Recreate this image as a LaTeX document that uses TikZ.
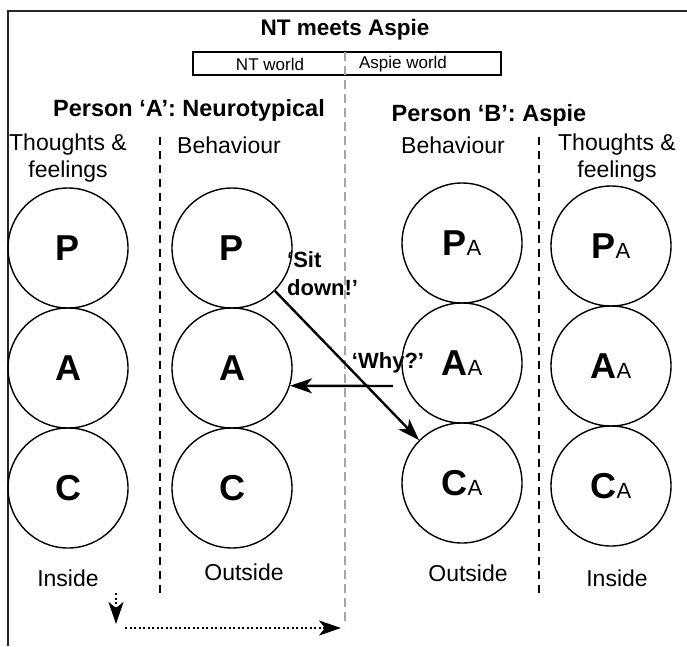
\documentclass[tikz,border=0pt]{standalone}
\usepackage{fontspec}
\setmainfont{Liberation Sans}
\usetikzlibrary{arrows.meta}
\tikzset{
  ring/.style={circle, draw, line width=1.4pt, minimum size=120pt, inner sep=0pt},
  lab/.style={font=\fontsize{23}{27}\selectfont, align=center, inner sep=0pt},
  head/.style={font=\fontsize{23.5}{27}\selectfont\bfseries, inner sep=0pt},
  speech/.style={font=\fontsize{22}{28}\selectfont\bfseries, inner sep=0pt, align=left},
  sep/.style={line width=2.2pt, dash pattern=on 8pt off 6pt},
  worldsep/.style={line width=2.2pt, gray!70, dash pattern=on 9pt off 5pt},
  arr/.style={line width=2.4pt, -{Stealth[length=22pt,width=15pt,inset=6pt]}},
  dotarr/.style={line width=2.4pt, dash pattern=on 2pt off 2.5pt, -{Stealth[length=22pt,width=15pt,inset=6pt]}}
}
\newcommand{\bigletter}[1]{{\fontsize{36}{40}\selectfont\bfseries #1}}
\newcommand{\subA}{{\fontsize{22}{26}\selectfont A}}
\begin{document}
\begin{tikzpicture}[x=1pt, y=-1pt]
\useasboundingbox (0,0) rectangle (687,646);
% outer frame
\draw[line width=2.2pt, black!85] (8,646) -- (8,11) -- (687,11);

% title and legend
\node[font=\fontsize{22.5}{26}\selectfont\bfseries, inner sep=0pt] (title) at (345,30) {NT meets Aspie};
\node[draw, line width=1.4pt, minimum width=308pt, minimum height=23pt, inner sep=0pt] (legend) at (347,63.5) {};
\node[font=\fontsize{17}{20}\selectfont, inner sep=0pt] (ntw) at (270,64) {NT world};
\node[font=\fontsize{17}{20}\selectfont, inner sep=0pt] (asw) at (403,64) {Aspie world};

% separators
\coordinate (g0) at (345,52); \coordinate (g1) at (345,626);
\draw[worldsep] (g0) -- (g1);
\coordinate (l0) at (160,137); \coordinate (l1) at (160,598);
\draw[sep] (l0) -- (l1);
\coordinate (r0) at (539,137); \coordinate (r1) at (539,598);
\draw[sep] (r0) -- (r1);

% headings
\node[head] (pa) at (189,110) {Person ‘A’: Neurotypical};
\node[head] (pb) at (489,115) {Person ‘B’: Aspie};
\node[lab] (tfa) at (68,158) {Thoughts \&\\feelings};
\node[lab] (bha) at (229,145) {Behaviour};
\node[lab] (bhb) at (453,145) {Behaviour};
\node[lab] (tfb) at (617,158) {Thoughts \&\\feelings};

% person A
\node[ring] (a1p) at (68,248) {\bigletter{P}};
\node[ring] (a1a) at (68,368) {\bigletter{A}};
\node[ring] (a1c) at (68,488) {\bigletter{C}};
\node[ring] (a2p) at (232,248) {\bigletter{P}};
\node[ring] (a2a) at (232,368) {\bigletter{A}};
\node[ring] (a2c) at (232,488) {\bigletter{C}};

% person B
\node[ring] (b1p) at (462,243) {\bigletter{P}\subA};
\node[ring] (b1a) at (462,363) {\bigletter{A}\subA};
\node[ring] (b1c) at (462,483) {\bigletter{C}\subA};
\node[ring] (b2p) at (611,246) {\bigletter{P}\subA};
\node[ring] (b2a) at (611,366) {\bigletter{A}\subA};
\node[ring] (b2c) at (611,486) {\bigletter{C}\subA};

% bottom labels
\node[lab] (ina) at (68,578) {Inside};
\node[lab] (outa) at (244,572) {Outside};
\node[lab] (outb) at (468,573) {Outside};
\node[lab] (inb) at (617,578) {Inside};

% messages
\node[speech, anchor=north west] (sit) at (287,251) {‘Sit\\down!’};
\node[speech] (why) at (388,363) {‘Why?’};
\draw[arr] (a2p.south east) -- (b1c.north west);
\coordinate (whystart) at (393,386);
\draw[arr] (whystart) -- (a2a.-17.5);

% inside to outside
\coordinate (d0) at (116,593); \coordinate (d1) at (116,624);
\draw[dotarr] (d0) -- (d1);
\coordinate (d2) at (125,628); \coordinate (d3) at (341,628);
\draw[dotarr] (d2) -- (d3);
\end{tikzpicture}
\end{document}
